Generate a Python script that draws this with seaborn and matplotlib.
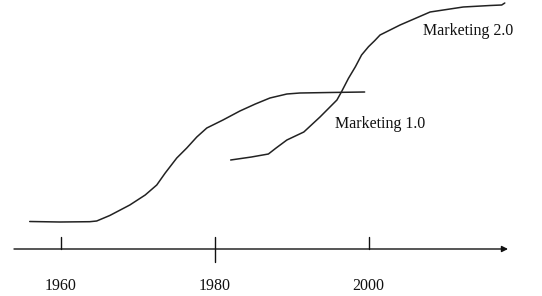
import matplotlib
matplotlib.use("Agg")
import matplotlib.pyplot as plt
import seaborn as sns
import pandas as pd

# Marketing 1.0 curve (year, level)
m1_years = [1956.0, 1959.9, 1963.8, 1964.7, 1966.4, 1969.0, 1971.0, 1972.5, 1973.6,
            1975.1, 1976.4, 1977.7, 1979.0, 1981.1, 1983.3, 1985.3, 1987.2, 1989.4,
            1991.1, 1995.0, 1999.5]
m1_level = [74.5, 74, 74.3, 75, 80.5, 91, 101, 111, 123, 138, 148, 159, 168, 176,
            185, 192, 198, 202, 203, 203.5, 204]

# Marketing 2.0 curve (year, level)
m2_years = [1982.1, 1984.8, 1987.0, 1988.0, 1989.4, 1991.6, 1993.7, 1995.9, 1996.5,
            1997.4, 1998.3, 1999.1, 2000.0, 2000.8, 2001.5, 2002.8, 2004.1, 2008.0,
            2012.3, 2015.8, 2017.3, 2017.7]
m2_level = [136, 139, 142, 148, 156, 164, 179, 196, 204.3, 217.7, 229.3, 241, 249.3,
            255.3, 261, 266, 271, 284, 289, 290.5, 291, 293]

tick_years = [1960, 1980, 2000]
tick_labels = ["1960", "1980", "2000"]
series_labels = ["Marketing 1.0", "Marketing 2.0"]

sns.set_theme(style="white")
plt.rcParams["font.family"] = ["Liberation Serif", "DejaVu Serif"]

df = pd.concat([
    pd.DataFrame({"year": m1_years, "level": m1_level, "series": series_labels[0]}),
    pd.DataFrame({"year": m2_years, "level": m2_level, "series": series_labels[1]}),
])

fig = plt.figure(figsize=(5.42, 2.96), dpi=100)
ax = fig.add_axes([0, 0, 1, 1])
px_per_year = 7.7
x0 = 1960 - 60.5 / px_per_year
ax.set_xlim(x0, x0 + 542 / px_per_year)
ax.set_ylim(0, 296)
ax.set_axis_off()

sns.lineplot(data=df, x="year", y="level", units="series", estimator=None,
             color="#222222", linewidth=1.1, sort=False, ax=ax, legend=False,
             solid_joinstyle="round", solid_capstyle="round")

axis_level = 47
axis_start = 1953.96
axis_end = 2018.12
ax.annotate("", xy=(axis_end, axis_level), xytext=(axis_start, axis_level),
            arrowprops=dict(arrowstyle="-|>", color="#111111", lw=1.0,
                            mutation_scale=9, shrinkA=0, shrinkB=0))

for yr, lab in zip(tick_years, tick_labels):
    low = 34.3 if yr == 1980 else axis_level
    ax.plot([yr, yr], [low, 59.3], color="#111111", lw=1.0)
    ax.text(yr, 6, lab, ha="center", va="baseline", fontsize=11.5, color="#111111")

ax.text(1995.6, 168, series_labels[0], ha="left", va="baseline", fontsize=11.5, color="#111111")
ax.text(2007.1, 261, series_labels[1], ha="left", va="baseline", fontsize=11.5, color="#111111")

fig.savefig("out.png", dpi=100, facecolor="white")
